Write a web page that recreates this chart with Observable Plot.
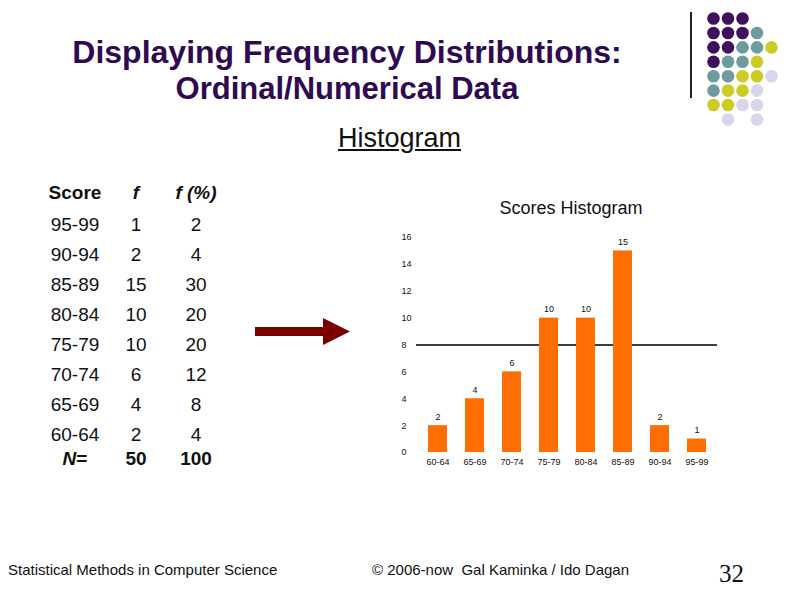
<!DOCTYPE html>
<html>
<head>
<meta charset="utf-8">
<script src="https://cdn.jsdelivr.net/npm/d3@7"></script>
<script src="https://cdn.jsdelivr.net/npm/@observablehq/plot@0.6"></script>
<style>
  html, body { margin: 0; padding: 0; background: #fff; }
  #slide { position: relative; width: 794px; height: 595px; overflow: hidden; background: #fff;
           font-family: "Liberation Sans", Arial, sans-serif; }
  .abs { position: absolute; white-space: nowrap; }
  .title { color: #2f0a52; font-weight: bold; font-size: 31px; text-align: center; width: 700px; left: -3px; }
  .cell { position: absolute; font-size: 19px; color: #111; transform: translate(-50%, -50%); white-space: nowrap; }
  .foot { font-size: 15px; color: #111; }
</style>
</head>
<body>
<div id="slide"></div>
<script>
// ---- data ----
const categories = ["60-64", "65-69", "70-74", "75-79", "80-84", "85-89", "90-94", "95-99"];
const counts = [2, 4, 6, 10, 10, 15, 2, 1];
const percents = [4, 8, 12, 20, 20, 30, 4, 2];
const totalCount = 50;
const totalPercent = 100;
const yTicks = [0, 2, 4, 6, 8, 10, 12, 14, 16];
const referenceLine = [8];
const tableHeaders = ["Score", "f", "f (%)"];

// decoration dot grid (col, row, colour key)
const dotCols = [0,1,2, 0,1,2,3, 0,1,2,3,4, 0,1,2,3, 0,1,2,3,4, 0,1,2,3, 0,1,2,3, 1,3];
const dotRows = [0,0,0, 1,1,1,1, 2,2,2,2,2, 3,3,3,3, 4,4,4,4,4, 5,5,5,5, 6,6,6,6, 7,7];
const dotKeys = ["P","P","P", "P","P","P","T", "P","P","T","T","Y", "P","T","T","Y",
                 "T","T","Y","Y","L", "T","Y","Y","L", "Y","Y","L","L", "L","L"];

const slide = document.getElementById("slide");
function add(html, cls, style) {
  const d = document.createElement("div");
  d.className = cls;
  d.innerHTML = html;
  Object.assign(d.style, style);
  slide.appendChild(d);
  return d;
}

// ---- titles ----
add("Displaying Frequency Distributions:", "abs title", {top: "34px", fontSize: "32px"});
add("Ordinal/Numerical Data", "abs title", {top: "71px"});
add("<u>Histogram</u>", "abs", {left: "338px", top: "123px", fontSize: "27px", color: "#111"});

// ---- table ----
const colX = [75, 136, 196];
const rowY0 = 225, rowStep = 30;
add("<b>" + tableHeaders[0] + "</b>", "cell", {left: colX[0] + "px", top: "193px"});
add("<b><i>" + tableHeaders[1] + "</i></b>", "cell", {left: colX[1] + "px", top: "193px"});
add("<b><i>" + tableHeaders[2] + "</i></b>", "cell", {left: colX[2] + "px", top: "193px"});
for (let i = 0; i < categories.length; i++) {
  const k = categories.length - 1 - i;
  const y = rowY0 + i * rowStep;
  add(categories[k], "cell", {left: colX[0] + "px", top: y + "px"});
  add(String(counts[k]), "cell", {left: colX[1] + "px", top: y + "px"});
  add(String(percents[k]), "cell", {left: colX[2] + "px", top: y + "px"});
}
add("<b><i>N</i>=</b>", "cell", {left: colX[0] + "px", top: "459px"});
add("<b>" + totalCount + "</b>", "cell", {left: colX[1] + "px", top: "459px"});
add("<b>" + totalPercent + "</b>", "cell", {left: colX[2] + "px", top: "459px"});

// ---- arrow ----
add('<svg width="110" height="40"><rect x="5" y="12" width="75" height="9" fill="#7a0000"/>' +
    '<polygon points="73,3 100,16.5 73,30" fill="#7a0000"/></svg>', "abs", {left: "250px", top: "315px"});

// ---- chart title ----
add("Scores Histogram", "abs", {left: "571px", top: "198px", fontSize: "18px", color: "#111", transform: "translateX(-50%)"});

// ---- histogram ----
const data = categories.map((c, i) => ({cat: c, count: counts[i]}));
const chart = Plot.plot({
  width: 347,
  height: 260,
  marginLeft: 36,
  marginRight: 10,
  marginTop: 17,
  marginBottom: 28,
  x: {domain: categories, paddingInner: 0.5, paddingOuter: 0.25, label: null},
  y: {domain: [0, 16], label: null},
  style: {fontFamily: "Liberation Sans, Arial, sans-serif", background: "transparent", color: "#111"},
  marks: [
    Plot.ruleY(referenceLine, {stroke: "#000", strokeWidth: 1.3}),
    Plot.barY(data, {x: "cat", y: "count", fill: "#ff6e00"}),
    Plot.text(data, {x: "cat", y: "count", text: d => String(d.count), dy: -9, fontSize: 9, fill: "#111"}),
    Plot.axisY({ticks: yTicks, tickSize: 0, tickPadding: 0, textAnchor: "start", dx: -15, fontSize: 9, label: null}),
    Plot.axisX({tickSize: 0, tickPadding: 6, fontSize: 9, label: null})
  ]
});
chart.style.position = "absolute";
chart.style.left = "380px";
chart.style.top = "220px";
slide.appendChild(chart);

// ---- decoration ----
add("", "abs", {left: "690px", top: "12px", width: "1.5px", height: "86px", background: "#222"});
const dotColors = {P: "#400f5e", T: "#6e9b9e", Y: "#cccc22", L: "#d6d6ec"};
const dots = dotCols.map((c, i) => ({c, r: dotRows[i], k: dotKeys[i]}));
const deco = Plot.plot({
  width: 80,
  height: 120,
  margin: 0,
  x: {domain: [0, 4], range: [7, 65], axis: null},
  y: {domain: [0, 7], range: [7, 108], axis: null},
  style: {background: "transparent"},
  marks: [
    Plot.dot(dots, {x: "c", y: "r", r: 6.3, fill: d => dotColors[d.k], stroke: "none"})
  ]
});
deco.style.position = "absolute";
deco.style.left = "706px";
deco.style.top = "11px";
slide.appendChild(deco);

// ---- footer ----
add("Statistical Methods in Computer Science", "abs foot", {left: "8px", top: "561px"});
add("© 2006-now&nbsp; Gal Kaminka / Ido Dagan", "abs foot", {left: "372px", top: "561px"});
add("32", "abs", {left: "719px", top: "560px", fontFamily: "'Liberation Serif', 'Times New Roman', serif", fontSize: "25px", color: "#111"});
</script>
</body>
</html>
